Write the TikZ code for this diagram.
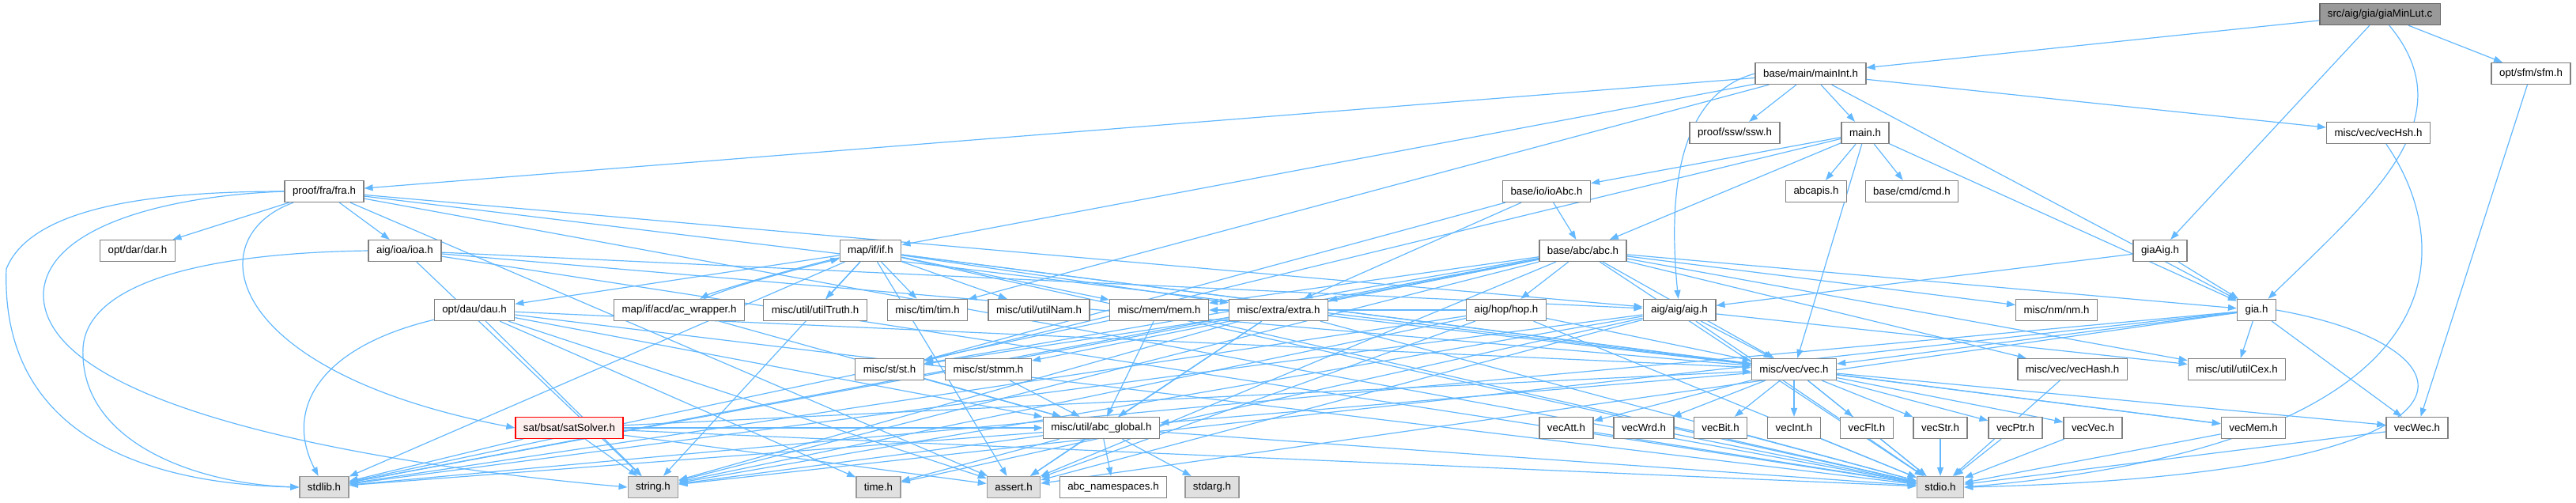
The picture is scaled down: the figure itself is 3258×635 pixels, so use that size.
\documentclass[tikz,border=0pt]{standalone}
\usepackage{fontspec}
\setmainfont{Liberation Sans}
\usetikzlibrary{arrows.meta}

\definecolor{edgeblue}{RGB}{99,184,255}
\definecolor{cutfill}{RGB}{255,240,240}
\pgfdeclarelayer{bg}
\pgfsetlayers{bg,main}

\tikzset{
  box/.style={draw=black!50, line width=1.3pt, fill=white, minimum height=27pt,
    inner xsep=10pt, inner ysep=0pt, font=\fontsize{13.3}{16}\selectfont},
  sysbox/.style={box, fill=black!12, draw=black!40},
  rootbox/.style={box, fill=black!40, draw=black!60},
  cutbox/.style={box, fill=cutfill, draw=red},
  inc/.style={draw=edgeblue, line width=1.2pt, -{Triangle[length=11pt,width=8pt,color=edgeblue]}},
}

\begin{document}
\begin{tikzpicture}[x=1pt,y=-1pt]
   \useasboundingbox (0,0) rectangle (3258,635);

   % row 0 and 1
   \node[rootbox] (root) at (3010,18) {src/aig/gia/giaMinLut.c};
   \node[box] (mainint) at (2290,93) {base/main/mainInt.h};
   \node[box] (sfm) at (3201,93) {opt/sfm/sfm.h};

   % row 2
   \node[box] (ssw) at (2194,168) {proof/ssw/ssw.h};
   \node[box] (mainh) at (2359,168) {main.h};
   \node[box] (vechsh) at (3008,168) {misc/vec/vecHsh.h};

   % row 3
   \node[box] (fra) at (410,242) {proof/fra/fra.h};
   \node[box] (ioabc) at (1956,242) {base/io/ioAbc.h};
   \node[box] (abcapis) at (2297,242) {abcapis.h};
   \node[box] (cmd) at (2418,242) {base/cmd/cmd.h};

   % row 4
   \node[box] (dar) at (174,317) {opt/dar/dar.h};
   \node[box] (ioa) at (512,317) {aig/ioa/ioa.h};
   \node[box] (ifh) at (1101,317) {map/if/if.h};
   \node[box] (abc) at (2002,317) {base/abc/abc.h};
   \node[box] (giaaig) at (2732,317) {giaAig.h};

   % row 5
   \node[box] (dau) at (600,392) {opt/dau/dau.h};
   \node[box] (acw) at (859,392) {map/if/acd/ac\_wrapper.h};
   \node[box] (truth) at (1031,392) {misc/util/utilTruth.h};
   \node[box] (tim) at (1173,392) {misc/tim/tim.h};
   \node[box] (nam) at (1314,392) {misc/util/utilNam.h};
   \node[box] (mem) at (1466,392) {misc/mem/mem.h};
   \node[box] (extra) at (1617,392) {misc/extra/extra.h};
   \node[box] (hop) at (1905,392) {aig/hop/hop.h};
   \node[box] (aig) at (2124,392) {aig/aig/aig.h};
   \node[box] (nm) at (2601,392) {misc/nm/nm.h};
   \node[box] (gia) at (2854,392) {gia.h};

   % row 6
   \node[box] (st) at (1125,467) {misc/st/st.h};
   \node[box] (stmm) at (1250,467) {misc/st/stmm.h};
   \node[box] (vec) at (2269,467) {misc/vec/vec.h};
   \node[box] (vechash) at (2621,467) {misc/vec/vecHash.h};
   \node[box] (cex) at (2829,467) {misc/util/utilCex.h};

   % row 7
   \node[cutbox] (sat) at (720,541) {sat/bsat/satSolver.h};
   \node[box] (glob) at (1393,541) {misc/util/abc\_global.h};
   \node[box] (vecatt) at (1981,541) {vecAtt.h};
   \node[box] (vecwrd) at (2079,541) {vecWrd.h};
   \node[box] (vecbit) at (2176,541) {vecBit.h};
   \node[box] (vecint) at (2269,541) {vecInt.h};
   \node[box] (vecflt) at (2361,541) {vecFlt.h};
   \node[box] (vecstr) at (2454,541) {vecStr.h};
   \node[box] (vecptr) at (2549,541) {vecPtr.h};
   \node[box] (vecvec) at (2647,541) {vecVec.h};
   \node[box] (vecmem) at (2850,541) {vecMem.h};
   \node[box] (vecwec) at (3057,541) {vecWec.h};

   % row 8, system headers
   \node[sysbox] (stdlib) at (410,616) {stdlib.h};
   \node[sysbox] (string) at (826,616) {string.h};
   \node[sysbox] (time) at (1111,616) {time.h};
   \node[sysbox] (assert) at (1282,616) {assert.h};
   \node[box] (ns) at (1408,616) {abc\_namespaces.h};
   \node[sysbox] (stdarg) at (1533,616) {stdarg.h};
   \node[sysbox] (stdio) at (2454,616) {stdio.h};

   \begin{pgfonlayer}{bg}
   \foreach \a/\b in {root/mainint, root/giaaig, root/sfm,
       mainint/fra, mainint/ifh, mainint/ssw, mainint/mainh,
       mainint/tim, mainint/gia, mainint/vechsh,
       sfm/vecwec,
       mainh/ioabc, mainh/abc, mainh/abcapis, mainh/cmd, mainh/gia, mainh/vec, mainh/st,
       ioabc/abc, ioabc/extra, ioabc/st,
       fra/dar, fra/ioa, fra/aig, fra/vec, fra/stdio, fra/assert,
       ioa/aig, ioa/vec, ioa/stdio, ioa/string,
       ifh/truth, ifh/tim, ifh/nam, ifh/mem, ifh/extra, ifh/dau, ifh/vec,
       ifh/vecmem, ifh/stdio, ifh/stdlib, ifh/string, ifh/assert,
       acw/glob,
       dau/string, dau/time, dau/assert, dau/stdio, dau/vec, dau/glob,
       sat/stdlib, sat/string, sat/assert, sat/stdio, sat/vec, sat/glob,
       mem/stdio, mem/stdlib, mem/glob,
       extra/stdio, extra/stdlib, extra/string, extra/assert, extra/st, extra/vec, extra/glob,
       abc/hop, abc/gia, abc/st, abc/stmm, abc/nm, abc/mem, abc/cex, abc/extra, abc/vec,
       abc/vechash, abc/stdio, abc/stdlib, abc/string, abc/assert,
       hop/stdio, hop/stdlib, hop/string, hop/assert, hop/vec, hop/mem,
       aig/stdio, aig/stdlib, aig/string, aig/assert, aig/time, aig/vec, aig/cex,
       giaaig/aig, giaaig/gia,
       gia/stdlib, gia/string, gia/assert, gia/vec, gia/vecwec, gia/cex,
       st/glob, stmm/glob, vechash/stdio,
       vec/glob, vec/stdio,
       glob/stdlib, glob/string, glob/time, glob/assert, glob/ns, glob/stdarg, glob/stdio}
     \draw[inc] (\a) -- (\b);
   \foreach \t in {vecatt,vecwrd,vecbit,vecint,vecflt,vecstr,vecptr,vecvec,vecmem,vecwec} {
     \draw[inc] (vec) -- (\t);
     \draw[inc] (\t) -- (stdio);
   }
   % the long bent ones
   \draw[inc] (root) .. controls (3120,150) and (3000,250) .. (gia);
   \draw[inc] (mainint.west) .. controls (2120,120) and (2110,250) .. (aig);
   \draw[inc] (vechsh) .. controls (3100,300) and (3140,560) .. (stdio.east);
   \draw[inc] (gia.east) .. controls (3150,440) and (3180,600) .. (stdio.east);
   \draw[inc] (fra.west) .. controls (200,242) and (40,260) .. (8,340)
                         .. controls (0,560) and (200,612) .. (stdlib.west);
   \draw[inc] (fra.west) .. controls (200,248) and (60,290) .. (55,370)
                         .. controls (50,520) and (500,590) .. (string.west);
   \draw[inc] (fra) .. controls (250,300) and (280,470) .. (sat.west);
   \draw[inc] (ioa.west) .. controls (250,320) and (110,360) .. (105,440)
                         .. controls (100,560) and (250,612) .. (stdlib.west);
   \draw[inc] (dau) .. controls (400,440) and (360,520) .. (stdlib);
   \draw[inc] (ifh) .. controls (1000,340) and (900,370) .. (acw);
   \draw[inc] (acw) .. controls (930,360) and (1010,340) .. (ifh);
   \end{pgfonlayer}
\end{tikzpicture}
\end{document}
